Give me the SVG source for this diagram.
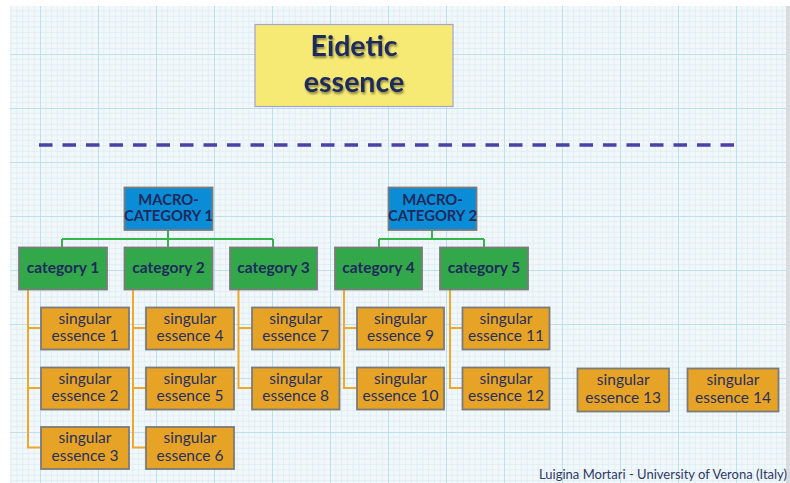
<svg xmlns="http://www.w3.org/2000/svg" width="790" height="483" viewBox="0 0 790 483">
<defs>
<pattern id="grid" patternUnits="userSpaceOnUse" x="40" y="0" width="58" height="54">
<rect width="58" height="54" fill="#f2f7fa"/>
<path d="M5.8,0V54M11.6,0V54M17.4,0V54M23.2,0V54M29,0V54M34.8,0V54M40.6,0V54M46.4,0V54M52.2,0V54M0,5.4H58M0,10.8H58M0,16.2H58M0,21.6H58M0,27H58M0,32.4H58M0,37.8H58M0,43.2H58M0,48.6H58" stroke="#dcedf3" stroke-width="0.8" fill="none"/>
<path d="M0.5,0V54M0,0.5H58" stroke="#bde1ec" stroke-width="1" fill="none"/>
</pattern>
<filter id="tshadow" x="-10%" y="-10%" width="130%" height="140%">
<feGaussianBlur in="SourceAlpha" stdDeviation="1"/>
<feOffset dx="1" dy="1.5" result="o"/>
<feComponentTransfer><feFuncA type="linear" slope="0.45"/></feComponentTransfer>
<feMerge><feMergeNode/><feMergeNode in="SourceGraphic"/></feMerge>
</filter>
</defs>
<style>
.macro rect{fill:#0b8cd6;stroke:#7b7b7b;stroke-width:1.8}
.cat rect{fill:#32a84a;stroke:#7b7b7b;stroke-width:1.8}
.se rect{fill:#e7a326;stroke:#7b7b7b;stroke-width:1.8}
.bt{font-family:Lato,"Open Sans","Liberation Sans",sans-serif;font-weight:bold;fill:#1f2a5c;text-anchor:middle}
.mt{font-size:14.8px}
.ct{font-size:15.5px}
.st{font-family:Lato,"Open Sans","Liberation Sans",sans-serif;font-size:15.5px;fill:#27305e;text-anchor:middle}
.g{stroke:#35b54c;stroke-width:2;fill:none}
.o{stroke:#f0a82c;stroke-width:2;fill:none}
</style>
<rect width="790" height="483" fill="#ffffff"/>
<rect x="786" y="6" width="4" height="477" fill="#d8dcde"/>
<rect x="10" y="6" width="776" height="477" fill="url(#grid)"/>

<g id="title">
<rect x="255" y="24.5" width="198" height="82" fill="#f6ea74" stroke="#a4a4d2" stroke-width="1.2"/>
<text class="bt" x="354" y="56" font-size="28.5" filter="url(#tshadow)">Eidetic</text>
<text class="bt" x="354" y="92" font-size="28.5" filter="url(#tshadow)">essence</text>
</g>

<path id="separator" d="M39,145H736" stroke="#4b41a8" stroke-width="3.6" stroke-dasharray="13.5 10" fill="none"/>

<g id="connectors">
<path class="g" d="M168,230V239M62,239H273M62,239V247M168,239V247M273,239V247"/>
<path class="g" d="M432,230V239M379,239H484M379,239V247M484,239V247"/>
<path class="o" d="M28,289V447.5H41M28,328H41M28,388H41"/>
<path class="o" d="M133,289V447.5H146M133,328H146M133,388H146"/>
<path class="o" d="M238.5,289V388H252M238.5,328H252"/>
<path class="o" d="M344,289V388H357M344,328H357"/>
<path class="o" d="M450,289V388H462M450,328H462"/>
</g>

<g id="macro1" class="macro"><rect x="124.5" y="187.5" width="88" height="42.5"/>
<text class="bt mt" x="168.5" y="204.5">MACRO-</text><text class="bt mt" x="168.5" y="221">CATEGORY 1</text></g>
<g id="macro2" class="macro"><rect x="388.5" y="187.5" width="88" height="42.5"/>
<text class="bt mt" x="432.5" y="204.5">MACRO-</text><text class="bt mt" x="432.5" y="221">CATEGORY 2</text></g>

<g id="cat1" class="cat"><rect x="19" y="247.5" width="88" height="42"/><text class="bt ct" x="63" y="273">category 1</text></g>
<g id="cat2" class="cat"><rect x="124.5" y="247.5" width="88" height="42"/><text class="bt ct" x="168.5" y="273">category 2</text></g>
<g id="cat3" class="cat"><rect x="230" y="247.5" width="87" height="42"/><text class="bt ct" x="273.5" y="273">category 3</text></g>
<g id="cat4" class="cat"><rect x="335" y="247.5" width="87" height="42"/><text class="bt ct" x="378.5" y="273">category 4</text></g>
<g id="cat5" class="cat"><rect x="440" y="247.5" width="88" height="42"/><text class="bt ct" x="484" y="273">category 5</text></g>

<g id="se1" class="se"><rect x="41" y="307.5" width="88" height="42"/><text class="st" x="85" y="323.5">singular</text><text class="st" x="85" y="341">essence 1</text></g>
<g id="se2" class="se"><rect x="41" y="367.5" width="88" height="42"/><text class="st" x="85" y="383.5">singular</text><text class="st" x="85" y="401">essence 2</text></g>
<g id="se3" class="se"><rect x="41" y="427" width="88" height="42"/><text class="st" x="85" y="443">singular</text><text class="st" x="85" y="460.5">essence 3</text></g>
<g id="se4" class="se"><rect x="146" y="307.5" width="88" height="42"/><text class="st" x="190" y="323.5">singular</text><text class="st" x="190" y="341">essence 4</text></g>
<g id="se5" class="se"><rect x="146" y="367.5" width="88" height="42"/><text class="st" x="190" y="383.5">singular</text><text class="st" x="190" y="401">essence 5</text></g>
<g id="se6" class="se"><rect x="146" y="427" width="88" height="42"/><text class="st" x="190" y="443">singular</text><text class="st" x="190" y="460.5">essence 6</text></g>
<g id="se7" class="se"><rect x="252" y="307.5" width="87.5" height="42"/><text class="st" x="295.7" y="323.5">singular</text><text class="st" x="295.7" y="341">essence 7</text></g>
<g id="se8" class="se"><rect x="252" y="367.5" width="87.5" height="42"/><text class="st" x="295.7" y="383.5">singular</text><text class="st" x="295.7" y="401">essence 8</text></g>
<g id="se9" class="se"><rect x="357" y="307.5" width="87" height="42"/><text class="st" x="400.5" y="323.5">singular</text><text class="st" x="400.5" y="341">essence 9</text></g>
<g id="se10" class="se"><rect x="357" y="367.5" width="87" height="42"/><text class="st" x="400.5" y="383.5">singular</text><text class="st" x="400.5" y="401">essence 10</text></g>
<g id="se11" class="se"><rect x="462.5" y="307.5" width="87" height="42"/><text class="st" x="506" y="323.5">singular</text><text class="st" x="506" y="341">essence 11</text></g>
<g id="se12" class="se"><rect x="462.5" y="367.5" width="87" height="42"/><text class="st" x="506" y="383.5">singular</text><text class="st" x="506" y="401">essence 12</text></g>
<g id="se13" class="se"><rect x="577.5" y="368.5" width="91.5" height="43"/><text class="st" x="623.2" y="385">singular</text><text class="st" x="623.2" y="403">essence 13</text></g>
<g id="se14" class="se"><rect x="687.5" y="368.5" width="91" height="43"/><text class="st" x="733" y="385">singular</text><text class="st" x="733" y="403">essence 14</text></g>

<text id="credit" x="787" y="479" font-family="Lato,'Open Sans','Liberation Sans',sans-serif" font-size="13" fill="#2c3a68" text-anchor="end">Luigina Mortari - University of Verona (Italy)</text>
</svg>
